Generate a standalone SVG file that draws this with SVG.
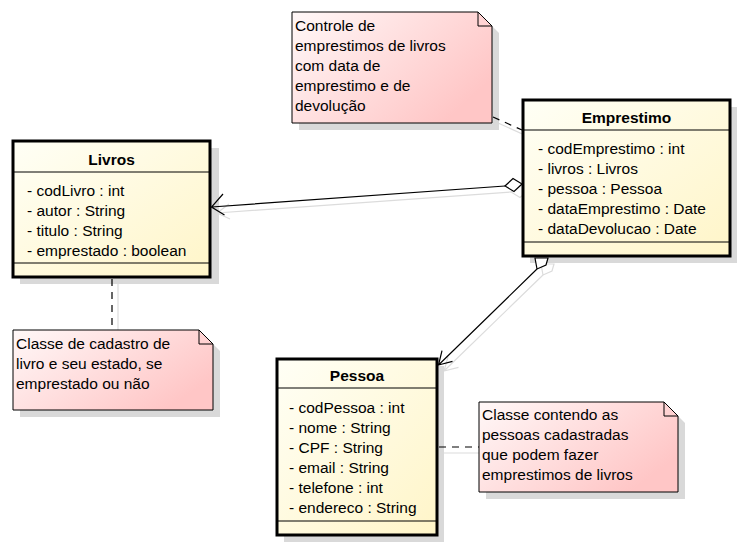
<svg xmlns="http://www.w3.org/2000/svg" width="751" height="549" viewBox="0 0 751 549">
<defs>
<linearGradient id="gClass" x1="0" y1="0" x2="1" y2="1">
<stop offset="0" stop-color="#fffff6"/>
<stop offset="1" stop-color="#fff5c8"/>
</linearGradient>
<linearGradient id="gNote" x1="0" y1="0" x2="1" y2="0.6">
<stop offset="0" stop-color="#fff8f8"/>
<stop offset="1" stop-color="#ffc6c6"/>
</linearGradient>
<style>
.shadow{fill:#d9d9d9;stroke:none}
.cls{fill:url(#gClass);stroke:#000;stroke-width:3}
.div{stroke:#000;stroke-width:1}
.note{fill:url(#gNote);stroke:#000;stroke-width:1}
.fold{fill:none;stroke:#000;stroke-width:1}
.t{font-family:"Liberation Sans",Arial,sans-serif;font-size:15.5px;fill:#000}
.title{font-family:"Liberation Sans",Arial,sans-serif;font-size:15.5px;font-weight:bold;fill:#000;text-anchor:middle}
.dash{stroke:#000;stroke-width:1.2;stroke-dasharray:7,6;fill:none}
.line{stroke:#000;stroke-width:1.2;fill:none}
.sline{stroke:#dcdcdc;stroke-width:1.2;fill:none}
.diam{fill:#fff;stroke:#000;stroke-width:1.2}
.sdiam{fill:none;stroke:#dcdcdc;stroke-width:1.2}
</style>
</defs>
<rect width="751" height="549" fill="#fff"/>

<g id="connector-shadows">
<line class="sline" x1="498" y1="123" x2="529" y2="137"/>
<line class="sline" x1="118" y1="283" x2="118" y2="336"/>
<line class="sline" x1="443" y1="453" x2="485" y2="453"/>
<path class="sline" d="M511,192 L217,213 M230,219 L217,213 L229,204"/>
<polygon class="sdiam" points="529,190 520,184.5 511,192 520,197.5"/>
<path class="sline" d="M543,275 L444,371 M448,357 L444,371 L458.5,367.3"/>
<polygon class="sdiam" points="541,264 554,264 552,271 543,275"/>
</g>

<g id="note-emprestimo">
<polygon class="shadow" points="299,19 485,19 499,33 499,130 299,130"/>
<polygon class="note" points="292,12 478,12 492,26 492,123 292,123"/>
<polyline class="fold" points="478,12 478,26 492,26"/>
<text class="t" x="295" y="30.5">Controle de</text>
<text class="t" x="295" y="50.5">emprestimos de livros</text>
<text class="t" x="295" y="70.5">com data de</text>
<text class="t" x="295" y="90.5">emprestimo e de</text>
<text class="t" x="295" y="110.5">devolução</text>
</g>

<g id="note-livros">
<polygon class="shadow" points="20,337 206,337 220,351 220,417 20,417"/>
<polygon class="note" points="13,330 199,330 213,344 213,410 13,410"/>
<polyline class="fold" points="199,330 199,344 213,344"/>
<text class="t" x="16" y="348.5">Classe de cadastro de</text>
<text class="t" x="16" y="368.5">livro e seu estado, se</text>
<text class="t" x="16" y="388.5">emprestado ou não</text>
</g>

<g id="note-pessoa">
<polygon class="shadow" points="486,409 671,409 685,423 685,499 486,499"/>
<polygon class="note" points="479,402 664,402 678,416 678,492 479,492"/>
<polyline class="fold" points="664,402 664,416 678,416"/>
<text class="t" x="482" y="419.5">Classe contendo as</text>
<text class="t" x="482" y="439.5">pessoas cadastradas</text>
<text class="t" x="482" y="459.5">que podem fazer</text>
<text class="t" x="482" y="479.5">emprestimos de livros</text>
</g>

<g id="class-livros">
<rect class="shadow" x="20" y="148" width="199" height="136"/>
<rect class="cls" x="13" y="141" width="197" height="136"/>
<line class="div" x1="13" y1="172" x2="210" y2="172"/>
<line class="div" x1="13" y1="263" x2="210" y2="263"/>
<text class="title" x="111.5" y="164.5">Livros</text>
<text class="t" x="27" y="195.5">- codLivro : int</text>
<text class="t" x="27" y="215.5">- autor : String</text>
<text class="t" x="27" y="235.5">- titulo : String</text>
<text class="t" x="27" y="255.5">- emprestado : boolean</text>
</g>

<g id="class-emprestimo">
<rect class="shadow" x="530" y="107" width="207" height="156"/>
<rect class="cls" x="523" y="100" width="207" height="156"/>
<line class="div" x1="523" y1="130" x2="730" y2="130"/>
<line class="div" x1="523" y1="242" x2="730" y2="242"/>
<text class="title" x="626.5" y="122.5">Emprestimo</text>
<text class="t" x="538" y="153.5">- codEmprestimo : int</text>
<text class="t" x="538" y="173.5">- livros : Livros</text>
<text class="t" x="538" y="193.5">- pessoa : Pessoa</text>
<text class="t" x="538" y="213.5">- dataEmprestimo : Date</text>
<text class="t" x="538" y="233.5">- dataDevolucao : Date</text>
</g>

<g id="class-pessoa">
<rect class="shadow" x="284" y="366" width="160" height="176"/>
<rect class="cls" x="277" y="359" width="160" height="176"/>
<line class="div" x1="277" y1="388" x2="437" y2="388"/>
<line class="div" x1="277" y1="521" x2="437" y2="521"/>
<text class="title" x="357" y="380.5">Pessoa</text>
<text class="t" x="289" y="412.5">- codPessoa : int</text>
<text class="t" x="289" y="432.5">- nome : String</text>
<text class="t" x="289" y="452.5">- CPF : String</text>
<text class="t" x="289" y="472.5">- email : String</text>
<text class="t" x="289" y="492.5">- telefone : int</text>
<text class="t" x="289" y="512.5">- endereco : String</text>
</g>

<g id="connectors">
<line class="dash" x1="493" y1="117" x2="522" y2="130"/>
<line class="dash" x1="112" y1="279" x2="112" y2="330"/>
<line class="dash" x1="439" y1="447" x2="479" y2="447"/>
<path class="line" d="M505,186 L211.5,207 M224.5,215 L211.5,207 L223,194"/>
<polygon class="diam" points="522,184 513,178.5 505,186 514,191.5"/>
<path class="line" d="M537,269 L438.5,365 M442,350.6 L438.5,365 L452.5,361.3"/>
<polygon class="diam" points="535,258 548,258 546,265 537,269"/>
</g>
</svg>
